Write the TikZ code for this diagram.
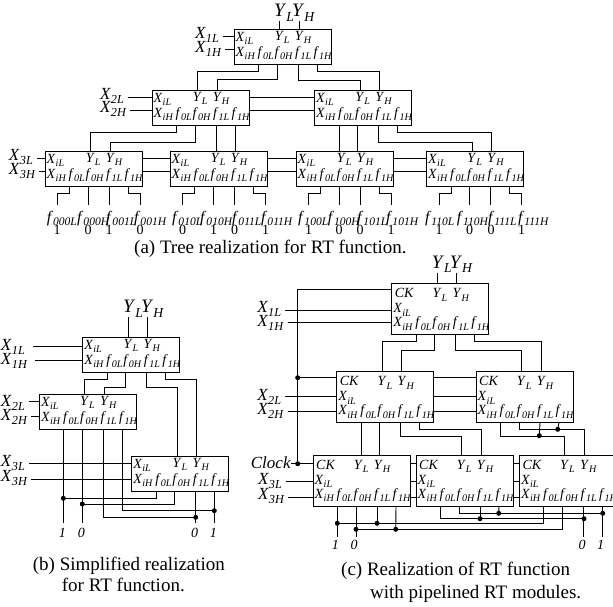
\documentclass[tikz,border=0pt]{standalone}
\usepackage{amsmath}
\usepackage{fontspec}
\setmainfont{Liberation Serif}
\usetikzlibrary{calc}

\newcommand{\rtsub}[2]{\textit{#1}\raisebox{-0.24em}{\scalebox{0.72}{\textit{#2}}}}

\newcommand{\rtports}[5]{%
  \foreach \pname/\dx/\tx/\ptext in {fa/24.5/23.5/{\rtsub{f}{0L}},fb/43/40.5/{\rtsub{f}{0H}},fc/64/61/{\rtsub{f}{1L}},fd/83/79.5/{\rtsub{f}{1H}}} {
    \coordinate (#1-\pname) at ($(#1.south west)+(\dx,0)$);
    \node[portlab] (#1-\pname-lab) at ($(#1.south west)+(\tx,-8)$) {\ptext};
  }
  \coordinate (#1-yl) at ($(#1.north west)+(45.5,0)$);
  \coordinate (#1-yh) at ($(#1.north west)+(65,0)$);
  \coordinate (#1-il) at ($(#1.north west)+(0,#4)$);
  \coordinate (#1-ih) at ($(#1.north west)+(0,#5)$);
  \node[portlab] (#1-yl-lab) at ($(#1.north west)+(40.7,#2)$) {\rtsub{Y}{L}};
  \node[portlab] (#1-yh-lab) at ($(#1.north west)+(60.7,#2)$) {\rtsub{Y}{H}};
  \node[portlab] (#1-il-lab) at ($(#1.north west)+(1.5,#3)$) {\rtsub{X}{iL}};
  \node[portlab] (#1-ih-lab) at ($(#1.south west)+(1.5,-8)$) {\rtsub{X}{iH}};
}

\newcommand{\rtmodule}[5]{%
  \node[rtbox, minimum height=35pt] (#1) at (#2,#3) {};
  \rtports{#1}{11}{12}{#4}{#5}
}

\newcommand{\ckmodule}[6]{%
  \node[rtbox, minimum height=51pt] (#1) at (#2,#3) {};
  \rtports{#1}{14}{29}{#5}{#6}
  \coordinate (#1-ck) at ($(#1.north west)+(0,#4)$);
  \node[portlab] (#1-ck-lab) at ($(#1.north west)+(3,14)$) {\textit{CK}};
}

\begin{document}
\begin{tikzpicture}[
    x=1pt, y=-1pt,
    rtbox/.style={draw, line width=1pt, minimum width=97pt, inner sep=0pt, outer sep=0pt, anchor=north west},
    portlab/.style={font=\fontsize{14}{16}\selectfont, anchor=base west, inner sep=0pt},
    extlab/.style={font=\fontsize{17}{19}\selectfont, anchor=base west, inner sep=0pt},
    leaflab/.style={font=\fontsize{16}{18}\selectfont, anchor=base west, inner sep=0pt},
    toplab/.style={font=\fontsize{19}{21}\selectfont, anchor=base west, inner sep=0pt},
    inlab/.style={extlab, outer xsep=4pt},
    vallab/.style={font=\fontsize{14}{16}\selectfont, anchor=base, inner sep=0pt},
    caption/.style={font=\fontsize{19}{22}\selectfont, anchor=base west, inner sep=0pt},
    dotnode/.style={circle, fill=black, inner sep=0pt, minimum size=5pt},
    wire/.style={line width=0.9pt}
  ]
  \useasboundingbox (0,0) rectangle (613,606);

  % tree realization
  \rtmodule{root}{234}{29}{7.7}{20.7}
  \rtmodule{mida}{152}{90}{7.7}{20}
  \rtmodule{midb}{314.5}{90}{7.7}{20}
  \rtmodule{leafa}{45}{151}{7.5}{20}
  \rtmodule{leafb}{170}{151}{7.5}{20}
  \rtmodule{leafc}{296}{151}{7.5}{20}
  \rtmodule{leafd}{426.5}{151}{7.5}{20}

  \node[toplab] (outyl) at (274,16.7) {\rtsub{Y}{L}};
  \node[toplab] (outyh) at (292,16.7) {\rtsub{Y}{H}};
  \draw[wire] (root-yl |- outyl.south) -- (root-yl);
  \draw[wire] (root-yh |- outyh.south) -- (root-yh);

  \node[inlab] (x1l) at (191,38) {\rtsub{X}{1L}};
  \node[inlab] (x1h) at (191,52) {\rtsub{X}{1H}};
  \node[inlab] (x2l) at (96,99) {\rtsub{X}{2L}};
  \node[inlab] (x2h) at (96,112.7) {\rtsub{X}{2H}};
  \node[inlab] (x3l) at (5,160) {\rtsub{X}{3L}};
  \node[inlab] (x3h) at (5,174) {\rtsub{X}{3H}};
  \draw[wire] (x1l.east |- root-il) -- (root-il);
  \draw[wire] (x1h.east |- root-ih) -- (root-ih);
  \draw[wire] (x2l.east |- mida-il) -- (mida-il);
  \draw[wire] (x2h.east |- mida-ih) -- (mida-ih);
  \draw[wire] (x3l.east |- leafa-il) -- (leafa-il);
  \draw[wire] (x3h.east |- leafa-ih) -- (leafa-ih);

  \draw[wire] (root-fa) -- ++(0,7) -| (mida-yl);
  \draw[wire] (root-fb) -- ++(0,15) -| (mida-yh);
  \draw[wire] (root-fc) -- ++(0,16) -| (midb-yl);
  \draw[wire] (root-fd) -- ++(0,7.5) -| (midb-yh);
  \draw[wire] (mida-il -| mida.east) -- (midb-il);
  \draw[wire] (mida-ih -| mida.east) -- (midb-ih);

  \draw[wire] (mida-fa) -- ++(0,7) -| (leafa-yl);
  \draw[wire] (mida-fb) -- ++(0,17) -| (leafa-yh);
  \draw[wire] (mida-fc) -- (mida-fc |- leafb.north);
  \draw[wire] (mida-fd) -- (mida-fd |- leafb.north);
  \draw[wire] (midb-fa) -- (midb-fa |- leafc.north);
  \draw[wire] (midb-fb) -- (midb-fb |- leafc.north);
  \draw[wire] (midb-fc) -- ++(0,17) -| (leafd-yl);
  \draw[wire] (midb-fd) -- ++(0,7) -| (leafd-yh);
  \foreach \from/\to in {leafa/leafb,leafb/leafc,leafc/leafd} {
    \draw[wire] (\from-il -| \from.east) -- (\to-il);
    \draw[wire] (\from-ih -| \from.east) -- (\to-ih);
  }

  \foreach \idx/\ex/\lx/\val in {000L/57/46.7/1,000H/88/77/0,001L/109/106/1,001H/140/134/0,
      010L/182.5/172/0,010H/213.5/200/1,011L/234.5/232/0,011H/265.5/261/1,
      100L/308.5/298/1,100H/339/327.7/0,101L/360/357/0,101H/391/386/1,
      110L/439/425/1,110H/469.5/456.7/0,111L/491/488/0,111H/521.5/518/1} {
    \coordinate (e\idx) at (\ex,205);
    \node[leaflab] (f\idx) at (\lx,222) {\rtsub{f}{\idx}};
    \node[vallab] (v\idx) at (\ex,234.5) {\val};
  }
  \draw[wire] (leafa-fa) -- ++(0,7) -| (e000L);
  \draw[wire] (leafa-fb) -- (leafa-fb |- e000H);
  \draw[wire] (leafa-fc) -- (leafa-fc |- e001L);
  \draw[wire] (leafa-fd) -- ++(0,7) -| (e001H);
  \draw[wire] (leafb-fa) -- ++(0,7) -| (e010L);
  \draw[wire] (leafb-fb) -- (leafb-fb |- e010H);
  \draw[wire] (leafb-fc) -- (leafb-fc |- e011L);
  \draw[wire] (leafb-fd) -- ++(0,7) -| (e011H);
  \draw[wire] (leafc-fa) -- ++(0,7) -| (e100L);
  \draw[wire] (leafc-fb) -- (leafc-fb |- e100H);
  \draw[wire] (leafc-fc) -- (leafc-fc |- e101L);
  \draw[wire] (leafc-fd) -- ++(0,7) -| (e101H);
  \draw[wire] (leafd-fa) -- ++(0,7) -| (e110L);
  \draw[wire] (leafd-fb) -- (leafd-fb |- e110H);
  \draw[wire] (leafd-fc) -- (leafd-fc |- e111L);
  \draw[wire] (leafd-fd) -- ++(0,7) -| (e111H);

  \node[caption] (capa) at (134,253) {(a) Tree realization for RT function.};

  % simplified realization
  \rtmodule{simt}{82.7}{337.3}{9.4}{22.7}
  \rtmodule{simm}{39.3}{394}{7.7}{22.7}
  \rtmodule{simb}{131.7}{456.3}{7.4}{23}

  \node[toplab] (simyl) at (123,312.7) {\rtsub{Y}{L}};
  \node[toplab] (simyh) at (141,312.7) {\rtsub{Y}{H}};
  \draw[wire] (simt-yl |- simyl.south) -- (simt-yl);
  \draw[wire] (simt-yh |- simyh.south) -- (simt-yh);

  \node[inlab] (sx1l) at (-3,350.7) {\rtsub{X}{1L}};
  \node[inlab] (sx1h) at (-3,364) {\rtsub{X}{1H}};
  \node[inlab] (sx2l) at (-3,406) {\rtsub{X}{2L}};
  \node[inlab] (sx2h) at (-3,420.7) {\rtsub{X}{2H}};
  \node[inlab] (sx3l) at (-3,466.7) {\rtsub{X}{3L}};
  \node[inlab] (sx3h) at (-3,481.7) {\rtsub{X}{3H}};
  \draw[wire] ([xshift=4pt]sx1l.east |- simt-il) -- (simt-il);
  \draw[wire] ([xshift=4pt]sx1h.east |- simt-ih) -- (simt-ih);
  \draw[wire] (sx2l.east |- simm-il) -- (simm-il);
  \draw[wire] (sx2h.east |- simm-ih) -- (simm-ih);
  \draw[wire] (sx3l.east |- simb-il) -- (simb-il);
  \draw[wire] (sx3h.east |- simb-ih) -- (simb-ih);

  \draw[wire] (simt-fa) -- ++(0,6.7) -| (simm-yl);
  \draw[wire] (simt-fb) -- ++(0,15.4) -| (simm-yh);
  \draw[wire] (simt-fc) -- ++(0,15.4) -| (simb-yl);
  \draw[wire] (simt-fd) -- ++(0,6.7) -| (simb-yh);

  \foreach \idx/\ex/\ey/\val in {a/63.3/498.3/1,b/82.3/504/0,c/195.7/517.3/0,d/214.3/510.7/1} {
    \node[dotnode] (sdot\idx) at (\ex,\ey) {};
    \coordinate (send\idx) at (\ex,523.3);
    \node[vallab] (sval\idx) at (\ex-1,537) {\textit{\val}};
  }
  \draw[wire] (simm-fa) -- (simm-fa |- senda);
  \draw[wire] (simm-fb) -- (simm-fb |- sendb);
  \draw[wire] (simm-fc) |- (sdotc.center);
  \draw[wire] (simm-fd) |- (sdotd.center);
  \draw[wire] (simb-fa) |- (sdota.center);
  \draw[wire] (simb-fb) |- (sdotb.center);
  \draw[wire] (simb-fc) -- (simb-fc |- sendc);
  \draw[wire] (simb-fd) -- (simb-fd |- sendd);

  \node[caption] (capbu) at (32.7,570) {(b) Simplified realization};
  \node[caption] (capbl) at (61.7,591.7) {for RT function.};

  % pipelined realization
  \ckmodule{pipt}{391.7}{283.7}{5.6}{26.3}{39}
  \ckmodule{pipa}{336.7}{371.7}{6}{24.3}{40}
  \ckmodule{pipb}{476}{371.7}{6}{24.3}{40}
  \ckmodule{pipc}{313}{455.3}{8.4}{25.7}{42}
  \ckmodule{pipd}{416}{455.3}{8.4}{25.7}{42}
  \ckmodule{pipe}{519.3}{455.3}{8.4}{25.7}{42}

  \node[toplab] (pipyl) at (431.7,268.3) {\rtsub{Y}{L}};
  \node[toplab] (pipyh) at (449.7,268.3) {\rtsub{Y}{H}};
  \draw[wire] (pipt-yl |- pipyl.south) -- (pipt-yl);
  \draw[wire] (pipt-yh |- pipyh.south) -- (pipt-yh);

  \node[inlab] (px1l) at (253.3,312.3) {\rtsub{X}{1L}};
  \node[inlab] (px1h) at (253.3,326) {\rtsub{X}{1H}};
  \node[inlab] (px2l) at (253.3,400) {\rtsub{X}{2L}};
  \node[inlab] (px2h) at (253.3,414) {\rtsub{X}{2H}};
  \node[inlab] (px3l) at (254,484.3) {\rtsub{X}{3L}};
  \node[inlab] (px3h) at (254,499.3) {\rtsub{X}{3H}};
  \node[extlab] (clock) at (250.7,468.3) {\textit{Clock}};
  \node[dotnode] (ckdota) at (297.7,377.7) {};
  \node[dotnode] (ckdotb) at (297.7,463.7) {};
  \draw[wire] (px1l.east |- pipt-il) -- (pipt-il);
  \draw[wire] (px1h.east |- pipt-ih) -- (pipt-ih);
  \draw[wire] (px2l.east |- pipa-il) -- (pipa-il);
  \draw[wire] (px2h.east |- pipa-ih) -- (pipa-ih);
  \draw[wire] (px3l.east |- pipc-il) -- (pipc-il);
  \draw[wire] (px3h.east |- pipc-ih) -- (pipc-ih);
  \draw[wire] (clock.east |- pipc-ck) -- (pipc-ck);
  \draw[wire] (pipt-ck) -| (ckdotb.center);
  \draw[wire] (ckdota.center) -- (pipa-ck);

  \draw[wire] (pipt-fa) -- ++(0,6.7) -| (pipa-yl);
  \draw[wire] (pipt-fb) -- ++(0,15.3) -| (pipa-yh);
  \draw[wire] (pipt-fc) -- ++(0,15.3) -| (pipb-yl);
  \draw[wire] (pipt-fd) -- ++(0,6.7) -| (pipb-yh);
  \foreach \from/\to in {pipa/pipb,pipc/pipd,pipd/pipe} {
    \draw[wire] (\from-ck -| \from.east) -- (\to-ck);
    \draw[wire] (\from-il -| \from.east) -- (\to-il);
    \draw[wire] (\from-ih -| \from.east) -- (\to-ih);
  }

  \draw[wire] (pipa-fa) -- (pipa-fa |- pipc.north);
  \draw[wire] (pipa-fb) -- (pipa-fb |- pipc.north);
  \draw[wire] (pipa-fc) -- ++(0,13.4) -| (pipd-yl);
  \draw[wire] (pipa-fd) -- ++(0,7) -| (pipd-yh);
  \node[dotnode] (pdota) at (539.3,435.7) {};
  \node[dotnode] (pdotb) at (557.7,429.3) {};
  \draw[wire] (pipb-fa) -- ++(0,13.4) -| (pipe-yl);
  \draw[wire] (pipb-fb) -- ++(0,7) -| (pipe-yh);
  \draw[wire] (pipb-fc) -- (pdota.center);
  \draw[wire] (pipb-fd) -- (pdotb.center);

  \foreach \idx/\ex/\val in {a/337.3/1,b/356/0,c/584/0,d/602.7/1} {
    \coordinate (pend\idx) at (\ex,537);
    \node[vallab] (pval\idx) at (\ex-2,549.3) {\textit{\val}};
  }
  \node[dotnode] (pdotc) at (337.3,523.3) {};
  \node[dotnode] (pdotd) at (356,529.3) {};
  \node[dotnode] (pdote) at (377,523.3) {};
  \node[dotnode] (pdotf) at (395.7,529.3) {};
  \node[dotnode] (pdotg) at (480,518.7) {};
  \node[dotnode] (pdoth) at (498.7,513.3) {};
  \node[dotnode] (pdoti) at (584,518.7) {};
  \node[dotnode] (pdotj) at (602.7,513.3) {};
  \draw[wire] (pipc-fa) -- (pipc-fa |- penda);
  \draw[wire] (pipc-fb) -- (pipc-fb |- pendb);
  \draw[wire] (pipc-fc) -- (pdote.center);
  \draw[wire] (pipc-fd) -- (pdotf.center);
  \draw[wire] (pipd-fc) -- (pdotg.center);
  \draw[wire] (pipd-fd) -- (pdoth.center);
  \draw[wire] (pipd-fa) |- (pdoti.center);
  \draw[wire] (pipd-fb) |- (pdotj.center);
  \draw[wire] (pipe-fc) -- (pipe-fc |- pendc);
  \draw[wire] (pipe-fd) -- (pipe-fd |- pendd);
  \draw[wire] (pdotc.center) -| (pipe-fa);
  \draw[wire] (pdotd.center) -| (pipe-fb);

  \node[caption] (capcu) at (341,575) {(c) Realization of RT function};
  \node[caption] (capcl) at (370,598) {with pipelined RT modules.};
\end{tikzpicture}
\end{document}
